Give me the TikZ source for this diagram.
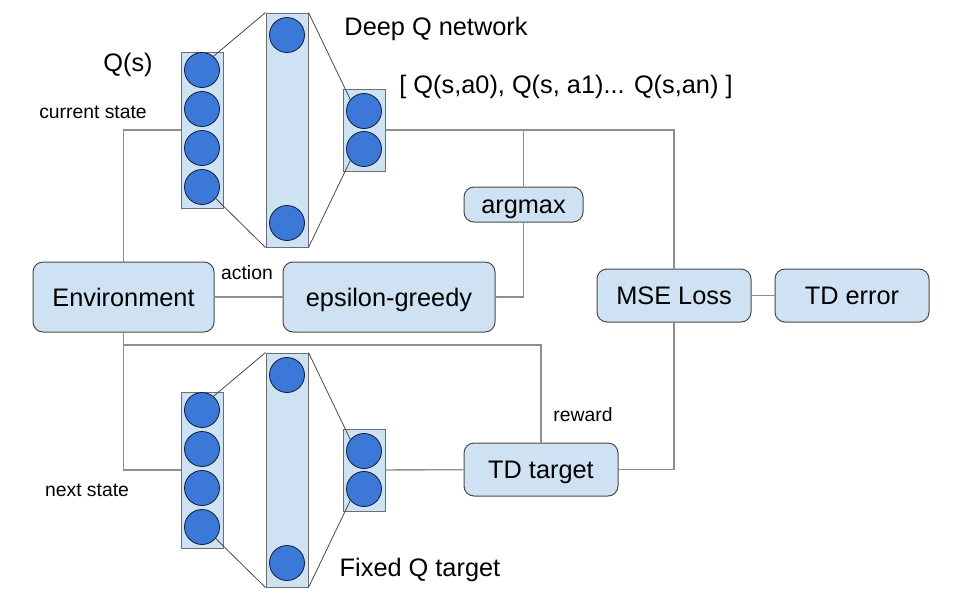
\documentclass[tikz,border=0pt]{standalone}
\usepackage{fontspec}
\setmainfont{Liberation Sans}
\usepackage{tikz}
\usetikzlibrary{positioning,calc}

\definecolor{boxblue}{HTML}{CFE2F3}
\definecolor{unitblue}{HTML}{3C78D8}
\definecolor{wiregray}{HTML}{8E8E8E}
\definecolor{rimgray}{HTML}{4A4A4A}

\begin{document}
\begin{tikzpicture}[x=0.75pt,y=-0.75pt,
    big/.style={font=\fontsize{19}{22}\selectfont},
    small/.style={font=\fontsize{14.5}{17}\selectfont},
    block/.style={rectangle,rounded corners=7.5pt,draw=rimgray,fill=boxblue,line width=0.75pt,inner sep=0pt,big,text height=13.6pt,text depth=0pt},
    layer/.style={rectangle,draw=rimgray!80,fill=boxblue,line width=0.75pt,minimum width=31.5pt,inner sep=0pt},
    unit/.style={circle,draw=black!75!unitblue,fill=unitblue,line width=0.6pt,minimum size=26.25pt,inner sep=0pt},
    wire/.style={draw=wiregray,line width=1pt},
    fan/.style={draw=rimgray,line width=0.6pt}]
		\useasboundingbox (0,0) rectangle (965,604);

		% blocks
		\node[block,minimum width=135.75pt,minimum height=52.5pt] (env) at (123.5,297) {Environment};
		\node[block,minimum width=159pt,minimum height=52.5pt] (eps) at (389,297) {epsilon-greedy};
		\node[block,minimum width=89.25pt,minimum height=26.25pt] (argmax) at (523.5,204.5) {argmax};
		\node[block,minimum width=115.5pt,minimum height=39.75pt] (mse) at (674,295.5) {MSE Loss};
		\node[block,minimum width=115.5pt,minimum height=39.75pt] (tderr) at (852,295.5) {TD error};
		\node[block,minimum width=115.5pt,minimum height=39.75pt] (tdtgt) at (541,469.5) {TD target};

		% the two networks, online (1) and fixed target (2)
		\foreach \n/\dy in {1/0,2/340} {
			\node[layer,minimum height=117pt] (in\n) at (202,130+\dy) {};
			\node[layer,minimum height=175.5pt] (hid\n) at (287,130+\dy) {};
			\node[layer,minimum height=61.5pt] (out\n) at (364,130+\dy) {};
			\foreach \k/\cy in {1/70,2/109,3/148,4/187}
				\node[unit] (i\n c\k) at (202,\cy+\dy) {};
			\node[unit] (h\n c1) at (287,35+\dy) {};
			\node[unit] (h\n c2) at (287,223+\dy) {};
			\node[unit] (o\n c1) at (364,111+\dy) {};
			\node[unit] (o\n c2) at (364,149+\dy) {};
			\draw[fan] (hid\n.north west) -- (i\n c1.50);
			\draw[fan] (hid\n.south west) -- (i\n c4.-40);
			\draw[fan] (hid\n.north east) -- (o\n c1.140);
			\draw[fan] (hid\n.south east) -- (o\n c2.220);
		}

		% labels
		\node[big] (qs) at (128,65) {Q(s)};
		\node[big] (dqn) at (436,29) {Deep Q network};
		\node[big] (qvec) at (566,87) {[ Q(s,a0), Q(s, a1)... Q(s,an) ]};
		\node[big] (fixq) at (420,570) {Fixed Q target};
		\node[small] (cur) at (93,112) {current state};
		\node[small] (nxt) at (87,490) {next state};
		\node[small] (act) at (247,273) {action};
		\node[small] (rew) at (583,415) {reward};

		% connectors
		\draw[wire] (env.north) |- (in1.west);
		\draw[wire] (out1.east) -| (mse.north);
		\draw[wire] (argmax.north) -- (argmax.north |- out1.east);
		\draw[wire] (argmax.south) |- (eps.east);
		\draw[wire] (env) -- (eps);
		\draw[wire] (env.south) |- (in2.west);
		\coordinate (tap) at (env.south |- 0,345);
		\draw[wire] (tdtgt.north) |- (tap);
		\draw[wire] (out2) -- (tdtgt);
		\draw[wire] (tdtgt.east) -| (mse.south);
		\draw[wire] (mse) -- (tderr);

\end{tikzpicture}
\end{document}
